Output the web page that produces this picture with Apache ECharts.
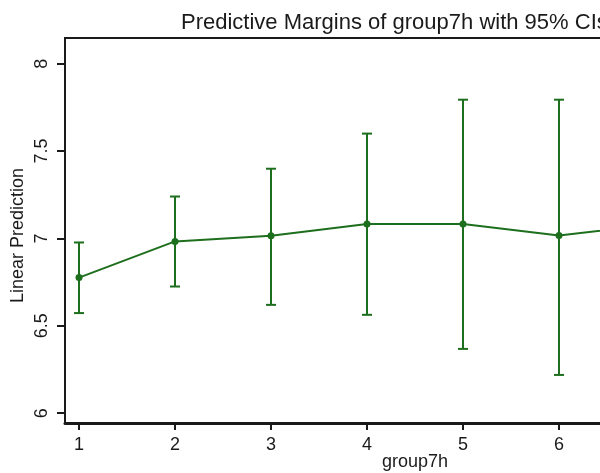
<!DOCTYPE html>
<html>
<head>
<meta charset="utf-8">
<script src="https://cdn.jsdelivr.net/npm/echarts@6/dist/echarts.min.js"></script>
<style>
  html, body { margin: 0; padding: 0; background: #fff; }
  #chart { width: 600px; height: 473px; }
</style>
</head>
<body>
<div id="chart"></div>
<script>
// Predictive margins of group7h with 95% confidence intervals
const groups = [1, 2, 3, 4, 5, 6, 7];
const margins = [6.776, 6.983, 7.015, 7.083, 7.083, 7.017, 7.08];
const ciLow = [6.573, 6.725, 6.62, 6.563, 6.368, 6.219, 6.24];
const ciHigh = [6.977, 7.24, 7.399, 7.6, 7.794, 7.794, 7.92];
const yTicks = [6, 6.5, 7, 7.5, 8];
const xTicks = [1, 2, 3, 4, 5, 6, 7];

const green = '#1d6e1d';
const ink = '#1a1a1a';
const font = '"Liberation Sans", Arial, sans-serif';

const chart = echarts.init(document.getElementById('chart'), null, { renderer: 'canvas' });

const pointData = groups.map((g, i) => [g, margins[i]]);
const ciData = groups.map((g, i) => [g, ciLow[i], ciHigh[i]]);

chart.setOption({
  animation: false,
  backgroundColor: '#fff',
  title: {
    text: 'Predictive Margins of group7h with 95% CIs',
    left: 176,
    top: 7,
    textStyle: { fontFamily: font, fontSize: 22, fontWeight: 'normal', color: ink }
  },
  grid: {
    left: 65,
    top: 38,
    width: 604,
    height: 385,
    outerBoundsMode: 'none',
    containLabel: false,
    show: true,
    borderColor: ink,
    borderWidth: 2,
    backgroundColor: 'transparent'
  },
  xAxis: {
    type: 'value',
    min: 0.854,
    max: 7.146,
    name: 'group7h',
    nameLocation: 'middle',
    nameGap: 30,
    nameMoveOverlap: false,
    nameTextStyle: { fontFamily: font, fontSize: 18, color: ink, padding: [0, 0, 0, 96] },
    axisLine: { show: true, onZero: false, lineStyle: { color: ink, width: 3 } },
    axisTick: { show: true, length: 7, customValues: xTicks, lineStyle: { color: ink, width: 2 } },
    axisLabel: { customValues: xTicks, margin: 13, fontFamily: font, fontSize: 18, color: ink },
    splitLine: { show: false }
  },
  yAxis: {
    type: 'value',
    min: 5.944,
    max: 8.147,
    name: 'Linear Prediction',
    nameLocation: 'middle',
    nameGap: 38,
    nameMoveOverlap: false,
    nameTextStyle: { fontFamily: font, fontSize: 18, color: ink, padding: [0, 10, 0, 0] },
    axisLine: { show: true, onZero: false, lineStyle: { color: ink, width: 2 } },
    axisTick: { show: true, length: 8, customValues: yTicks, lineStyle: { color: ink, width: 2 } },
    axisLabel: { customValues: yTicks, rotate: 90, margin: 14, fontFamily: font, fontSize: 18, color: ink },
    splitLine: { show: false }
  },
  series: [
    {
      name: 'CI',
      type: 'custom',
      data: ciData,
      clip: true,
      renderItem: function (params, api) {
        const x = api.value(0);
        const lo = api.coord([x, api.value(1)]);
        const hi = api.coord([x, api.value(2)]);
        const cap = 5;
        const style = { stroke: green, lineWidth: 2 };
        return {
          type: 'group',
          children: [
            { type: 'line', shape: { x1: lo[0], y1: lo[1], x2: hi[0], y2: hi[1] }, style: style },
            { type: 'line', shape: { x1: lo[0] - cap, y1: lo[1], x2: lo[0] + cap, y2: lo[1] }, style: style },
            { type: 'line', shape: { x1: hi[0] - cap, y1: hi[1], x2: hi[0] + cap, y2: hi[1] }, style: style }
          ]
        };
      },
      z: 2
    },
    {
      name: 'Margin',
      type: 'line',
      data: pointData,
      symbol: 'circle',
      symbolSize: 7,
      lineStyle: { color: green, width: 2 },
      itemStyle: { color: green },
      z: 3
    }
  ]
});
</script>
</body>
</html>
